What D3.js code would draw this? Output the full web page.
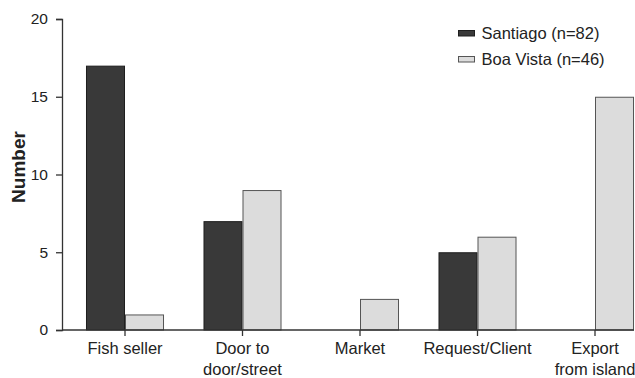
<!DOCTYPE html>
<html><head><meta charset="utf-8">
<script src="https://cdn.jsdelivr.net/npm/d3@7"></script>
<style>
html,body{margin:0;padding:0;background:#fff;}
svg{display:block;font-family:"Liberation Sans",Arial,Helvetica,sans-serif;}
</style></head>
<body><svg id="c" width="635" height="378"></svg>
<script>
const categories = ["Fish seller", "Door to|door/street", "Market", "Request/Client", "Export|from island"];
const seriesNames = ["Santiago (n=82)", "Boa Vista (n=46)"];
const santiago = [17, 7, 0, 5, 0];
const boaVista = [1, 9, 2, 6, 15];
const yTicks = [0, 5, 10, 15, 20];
const yLabel = "Number";

const fills = ["#393939", "#dcdcdc"];
const strokes = ["#1e1e1e", "#555555"];
const textCol = "#222";

const svg = d3.select("#c");
const yBase = 330, yTop = 19, xAxisL = 62, xAxisR = 634;

const x = d3.scaleBand().domain(categories).range([66.25, 653.75]).paddingInner(0.336).paddingOuter(0.168);
const xs = d3.scaleBand().domain([0, 1]).range([0, x.bandwidth()]);
const y = d3.scaleLinear().domain([0, 20]).range([yBase, yTop]);

const series = [santiago, boaVista];
const g = svg.append("g");
series.forEach((vals, si) => {
  g.selectAll(null).data(vals.map((v, i) => ({v, c: categories[i]})).filter(d => d.v > 0))
    .enter().append("rect")
    .attr("x", d => x(d.c) + xs(si) + 0.5)
    .attr("y", d => y(d.v) + 0.5)
    .attr("width", xs.bandwidth() - 1)
    .attr("height", d => y(0) - y(d.v) - 0.5)
    .attr("fill", fills[si])
    .attr("stroke", strokes[si])
    .attr("stroke-width", 1);
});

// Y axis
const yAxis = svg.append("g").attr("transform", `translate(${xAxisL},0)`)
  .call(d3.axisLeft(y).tickValues(yTicks).tickSize(6).tickPadding(8));
yAxis.select(".domain").attr("stroke", "#333").attr("stroke-width", 1.3);
yAxis.selectAll(".tick line").attr("stroke", "#333").attr("stroke-width", 1.3);
yAxis.selectAll("text").attr("fill", textCol).style("font-size", "15.5px").style("font-family", "Liberation Sans, Arial, sans-serif");

// X axis
const xAxis = svg.append("g").attr("transform", `translate(0,${yBase})`)
  .call(d3.axisBottom(x).tickSize(6).tickPadding(4).tickFormat(""));
xAxis.select(".domain").remove();
xAxis.selectAll(".tick line").attr("stroke", "#333").attr("stroke-width", 1.3);
svg.append("line").attr("x1", xAxisL).attr("x2", xAxisR).attr("y1", yBase).attr("y2", yBase)
  .attr("stroke", "#333").attr("stroke-width", 1.3);

const lab = svg.append("g");
categories.forEach(c => {
  const lines = c.split("|");
  const t = lab.append("text").attr("text-anchor", "middle").attr("fill", textCol)
    .style("font-size", "16.5px").attr("x", x(c) + x.bandwidth() / 2);
  lines.forEach((l, i) => t.append("tspan").attr("x", x(c) + x.bandwidth() / 2).attr("y", 354 + i * 20.5).text(l));
});

// Y label
svg.append("text").attr("transform", "translate(25,167) rotate(-90)").attr("text-anchor", "middle")
  .attr("fill", textCol).style("font-size", "19px").style("font-weight", "bold").text(yLabel);

// Legend
const leg = svg.append("g");
seriesNames.forEach((n, i) => {
  const yy = 30 + i * 26;
  leg.append("rect").attr("x", 458.5).attr("y", yy + 0.5).attr("width", 16).attr("height", 5.5)
    .attr("fill", fills[i]).attr("stroke", strokes[i]);
  leg.append("text").attr("x", 481.5).attr("y", yy + 8.5).attr("fill", textCol)
    .style("font-size", "16.5px").text(n);
});
</script></body></html>
